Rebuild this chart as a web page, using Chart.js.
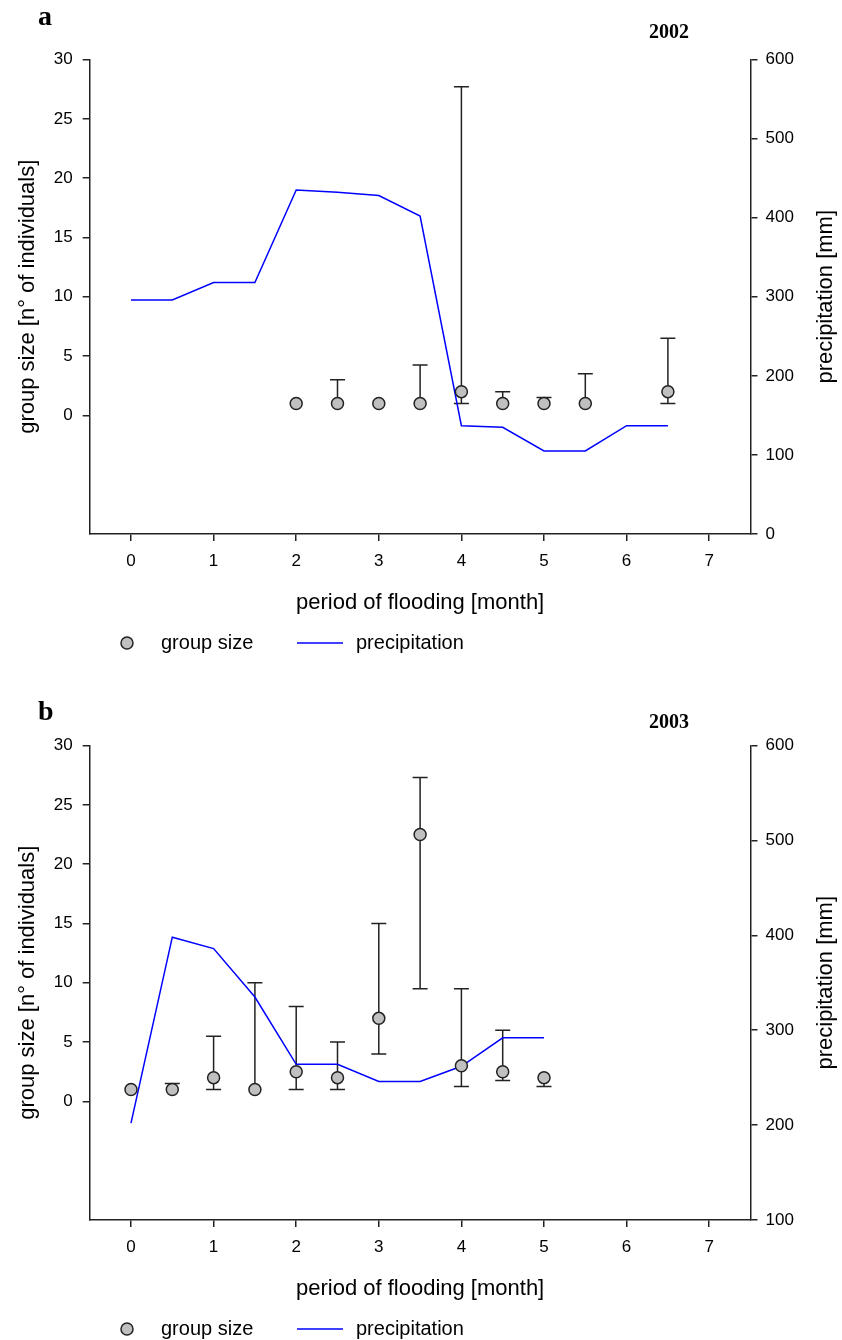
<!DOCTYPE html>
<html>
<head>
<meta charset="utf-8">
<title>Group size and precipitation vs. period of flooding</title>
<script src="https://cdn.jsdelivr.net/npm/chart.js@4.4.1/dist/chart.umd.min.js"></script>
<style>
  body { margin: 0; background: #fff; }
  .panel { position: absolute; left: 0; width: 842px; }
  #panelA { top: 0; }
  #panelB { top: 686px; }
</style>
</head>
<body>
<div class="panel" id="panelA"><canvas id="chartA" width="842" height="686"></canvas></div>
<div class="panel" id="panelB"><canvas id="chartB" width="842" height="654"></canvas></div>
<script>
// shared tick values
const monthTicks = [0, 1, 2, 3, 4, 5, 6, 7];
const groupTicks = [0, 5, 10, 15, 20, 25, 30];

// 2002 season
const precipMonths2002 = [0, 0.5, 1, 1.5, 2, 2.5, 3, 3.5, 4, 4.5, 5, 5.5, 6, 6.5];
const precip2002 = [296, 296, 318, 318, 435, 432, 428, 402, 137, 135, 105, 105, 137, 137];
const groupMonths2002 = [2, 2.5, 3, 3.5, 4, 4.5, 5, 5.5, 6.5];
const group2002 = [1, 1, 1, 1, 2, 1, 1, 1, 2];
const groupHigh2002 = [null, 3, null, 4.25, 27.7, 2, 1.5, 3.5, 6.5];
const groupLow2002 = [null, null, null, null, 1, null, null, null, 1];

// 2003 season
const precipMonths2003 = [0, 0.5, 1, 1.5, 2, 2.5, 3, 3.5, 4, 4.5, 5];
const precip2003 = [202, 398, 386, 335, 264, 264, 246, 246, 262, 292, 292];
const groupMonths2003 = [0, 0.5, 1, 1.5, 2, 2.5, 3, 3.5, 4, 4.5, 5];
const group2003 = [1, 1, 2, 1, 2.5, 2, 7, 22.5, 3, 2.5, 2];
const groupHigh2003 = [null, 1.5, 5.5, 10, 8, 5, 15, 27.3, 9.5, 6, null];
const groupLow2003 = [null, null, 1, null, 1, 1, 4, 9.5, 1.25, 1.75, 1.25];

const SANS = '"Liberation Sans", Arial, sans-serif';
const SERIF = '"Liberation Serif", "Times New Roman", serif';
const INK = '#222';

Chart.defaults.font.family = SANS;
Chart.defaults.color = '#000';

// whiskers with caps, drawn under the markers
const errorBars = {
  id: 'errorBars',
  beforeDatasetsDraw(chart) {
    const ctx = chart.ctx;
    chart.data.datasets.forEach(ds => {
      if (!ds.errHigh) return;
      const xs = chart.scales.x;
      const ys = chart.scales[ds.yAxisID];
      ctx.save();
      ctx.strokeStyle = INK;
      ctx.lineWidth = 1.5;
      ds.data.forEach((p, j) => {
        const px = xs.getPixelForValue(p.x);
        const py = ys.getPixelForValue(p.y);
        [ds.errHigh[j], ds.errLow[j]].forEach(v => {
          if (v == null) return;
          const vy = ys.getPixelForValue(v);
          ctx.beginPath();
          ctx.moveTo(px, py);
          ctx.lineTo(px, vy);
          ctx.moveTo(px - 7.5, vy);
          ctx.lineTo(px + 7.5, vy);
          ctx.stroke();
        });
      });
      ctx.restore();
    });
  }
};

// panel letter, year, right axis title and the legend row
const panelText = {
  id: 'panelText',
  afterDraw(chart, args, opts) {
    const ctx = chart.ctx;
    const area = chart.chartArea;
    ctx.save();
    ctx.fillStyle = '#000';
    ctx.textBaseline = 'alphabetic';
    ctx.font = 'bold 28px ' + SERIF;
    ctx.fillText(opts.letter, 38, opts.letterY);
    ctx.font = 'bold 20px ' + SERIF;
    ctx.textAlign = 'center';
    ctx.fillText(opts.year, 669, opts.yearY);
    ctx.restore();

    ctx.save();
    ctx.font = '22px ' + SANS;
    ctx.fillStyle = '#000';
    ctx.textAlign = 'center';
    ctx.textBaseline = 'middle';
    ctx.translate(826, (area.top + area.bottom) / 2);
    ctx.rotate(-Math.PI / 2);
    ctx.fillText('precipitation [mm]', 0, 0);
    ctx.restore();

    const rain = chart.data.datasets[0];
    const group = chart.data.datasets[1];
    const ly = 643;
    ctx.save();
    ctx.beginPath();
    ctx.arc(127, ly, 6, 0, Math.PI * 2);
    ctx.fillStyle = group.backgroundColor;
    ctx.fill();
    ctx.lineWidth = group.borderWidth;
    ctx.strokeStyle = group.borderColor;
    ctx.stroke();
    ctx.beginPath();
    ctx.moveTo(297, ly);
    ctx.lineTo(343, ly);
    ctx.lineWidth = rain.borderWidth;
    ctx.strokeStyle = rain.borderColor;
    ctx.stroke();
    ctx.font = '20px ' + SANS;
    ctx.fillStyle = '#000';
    ctx.textBaseline = 'middle';
    ctx.fillText(group.label, 161, ly);
    ctx.fillText(rain.label, 356, ly);
    ctx.restore();
  }
};

function axisLook(extra) {
  return Object.assign({
    grid: { drawOnChartArea: false, drawTicks: true, tickLength: 7, color: INK, lineWidth: 1.5 },
    border: { display: true, color: INK, width: 1.5 }
  }, extra);
}

function buildPanel(canvasId, cfg) {
  const canvas = document.getElementById(canvasId);
  const H = canvas.height;
  const plotBottom = 534;
  return new Chart(canvas, {
    type: 'scatter',
    data: {
      datasets: [
        {
          type: 'line',
          label: 'precipitation',
          data: cfg.precipMonths.map((m, i) => ({ x: m, y: cfg.precip[i] })),
          yAxisID: 'y2',
          borderColor: '#0000ff',
          borderWidth: 1.5,
          pointRadius: 0,
          tension: 0,
          fill: false,
          order: 2
        },
        {
          type: 'scatter',
          label: 'group size',
          data: cfg.groupMonths.map((m, i) => ({ x: m, y: cfg.group[i] })),
          errHigh: cfg.high,
          errLow: cfg.low,
          yAxisID: 'y',
          pointRadius: 6,
          pointHoverRadius: 6,
          backgroundColor: '#c0c0c0',
          borderColor: INK,
          borderWidth: 1.5,
          order: 1
        }
      ]
    },
    options: {
      responsive: false,
      animation: false,
      layout: { padding: { top: 59.5, left: 0, right: 0, bottom: 0 } },
      plugins: {
        legend: { display: false },
        tooltip: { enabled: false },
        panelText: { letter: cfg.letter, year: cfg.year, letterY: cfg.letterY, yearY: cfg.yearY }
      },
      scales: {
        x: axisLook({
          type: 'linear',
          position: 'bottom',
          min: -0.5,
          max: 7.5,
          afterBuildTicks: s => { s.ticks = monthTicks.map(v => ({ value: v })); },
          afterFit: s => { s.height = H - plotBottom; },
          ticks: { font: { size: 17 }, padding: 10 },
          title: {
            display: true,
            text: 'period of flooding [month]',
            font: { size: 22 },
            padding: { top: 0, bottom: H - 603 - 13.2 }
          }
        }),
        y: axisLook({
          type: 'linear',
          position: 'left',
          min: -10,
          max: 30,
          afterBuildTicks: s => { s.ticks = groupTicks.map(v => ({ value: v })); },
          afterFit: s => { s.width = 89.7; },
          ticks: { font: { size: 17 }, padding: 10 },
          title: {
            display: true,
            text: 'group size [n° of individuals]',
            font: { size: 22 },
            padding: { top: 14.3, bottom: 0 }
          }
        }),
        y2: axisLook({
          type: 'linear',
          position: 'right',
          min: cfg.rainMin,
          max: 600,
          afterFit: s => { s.width = 842 - 750.5; },
          ticks: { stepSize: 100, font: { size: 17 }, padding: 8 }
        })
      }
    },
    plugins: [errorBars, panelText]
  });
}

buildPanel('chartA', {
  letter: 'a', year: '2002', letterY: 25, yearY: 38,
  precipMonths: precipMonths2002, precip: precip2002,
  groupMonths: groupMonths2002, group: group2002,
  high: groupHigh2002, low: groupLow2002,
  rainMin: 0
});

buildPanel('chartB', {
  letter: 'b', year: '2003', letterY: 34, yearY: 42,
  precipMonths: precipMonths2003, precip: precip2003,
  groupMonths: groupMonths2003, group: group2003,
  high: groupHigh2003, low: groupLow2003,
  rainMin: 100
});
</script>
</body>
</html>
